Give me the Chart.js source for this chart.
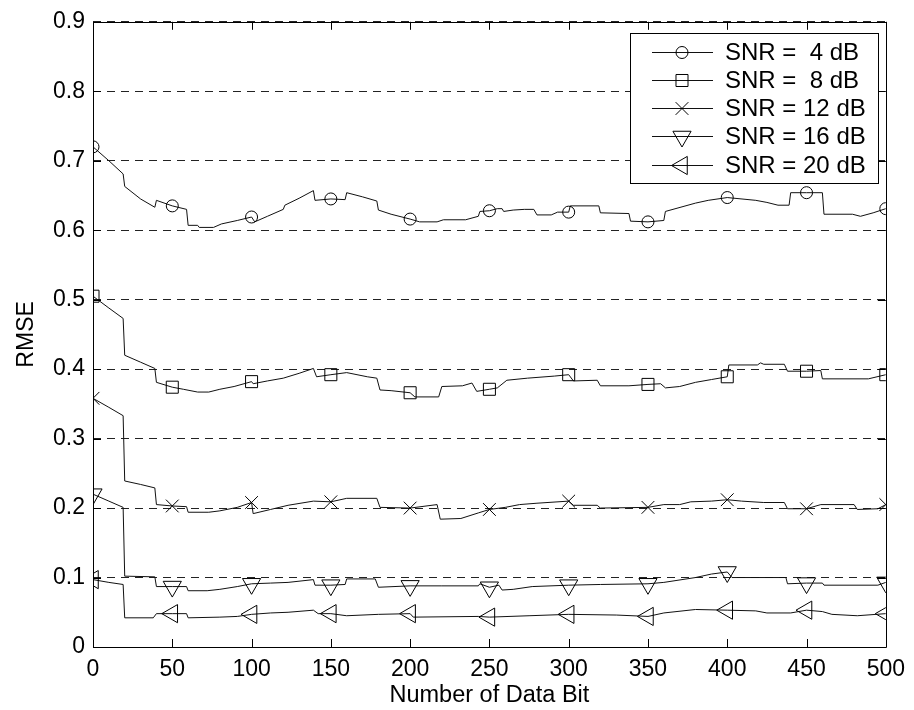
<!DOCTYPE html>
<html>
<head>
<meta charset="utf-8">
<script src="https://cdn.jsdelivr.net/npm/chart.js@4.4.1/dist/chart.umd.min.js"></script>
<style>
  html, body { margin: 0; padding: 0; background: #fff; }
  canvas { display: block; }
</style>
</head>
<body>
<canvas id="rmseChart" width="914" height="710"></canvas>
<script>
// tick values and labels
const xTickValues = [0, 50, 100, 150, 200, 250, 300, 350, 400, 450, 500];
const xTickLabels = ['0', '50', '100', '150', '200', '250', '300', '350', '400', '450', '500'];
const yTickValues = [0, 0.1, 0.2, 0.3, 0.4, 0.5, 0.6, 0.7, 0.8, 0.9];
const yTickLabels = ['0', '0.1', '0.2', '0.3', '0.4', '0.5', '0.6', '0.7', '0.8', '0.9'];

const seriesLabels = ['SNR =  4 dB', 'SNR =  8 dB', 'SNR = 12 dB', 'SNR = 16 dB', 'SNR = 20 dB'];

// SNR = 4 dB
const bits4 = [0, 10, 19, 20, 30, 39, 40, 50, 59, 60, 66, 67, 76, 81, 91, 100, 102, 110, 120, 121, 130, 139, 140, 150, 159, 160, 170, 179, 180, 188, 200, 206, 217, 221, 235, 243, 244, 250, 255, 258, 259, 265, 272, 278, 280, 289, 293, 300, 301, 319, 320, 338, 339, 350, 360, 361, 380, 388, 400, 418, 425, 432, 439, 440, 450, 460, 461, 479, 484, 492, 500];
const rmse4 = [0.720, 0.700, 0.681, 0.663, 0.645, 0.633, 0.643, 0.635, 0.630, 0.607, 0.607, 0.604, 0.604, 0.609, 0.614, 0.619, 0.612, 0.620, 0.630, 0.636, 0.646, 0.657, 0.643, 0.645, 0.644, 0.654, 0.648, 0.642, 0.629, 0.623, 0.616, 0.612, 0.612, 0.615, 0.615, 0.620, 0.627, 0.628, 0.631, 0.631, 0.627, 0.629, 0.630, 0.630, 0.622, 0.622, 0.626, 0.626, 0.635, 0.635, 0.625, 0.624, 0.613, 0.612, 0.614, 0.627, 0.639, 0.643, 0.647, 0.643, 0.640, 0.636, 0.636, 0.654, 0.654, 0.654, 0.623, 0.623, 0.620, 0.625, 0.631];

// SNR = 8 dB
const bits8 = [0, 10, 19, 20, 30, 39, 40, 50, 57, 66, 73, 80, 89, 100, 101, 110, 120, 130, 139, 141, 150, 160, 173, 179, 181, 188, 200, 203, 218, 220, 233, 239, 242, 250, 255, 261, 274, 291, 300, 303, 318, 320, 338, 350, 358, 361, 370, 380, 390, 400, 401, 419, 421, 423, 436, 438, 450, 459, 460, 489, 500];
const rmse8 = [0.505, 0.488, 0.473, 0.420, 0.410, 0.401, 0.381, 0.374, 0.371, 0.367, 0.367, 0.371, 0.375, 0.382, 0.379, 0.383, 0.387, 0.394, 0.401, 0.389, 0.392, 0.395, 0.389, 0.387, 0.370, 0.369, 0.366, 0.360, 0.360, 0.375, 0.376, 0.380, 0.368, 0.371, 0.373, 0.384, 0.387, 0.390, 0.392, 0.383, 0.384, 0.376, 0.376, 0.378, 0.379, 0.373, 0.375, 0.381, 0.385, 0.389, 0.406, 0.406, 0.409, 0.407, 0.407, 0.397, 0.397, 0.398, 0.386, 0.386, 0.392];

// SNR = 12 dB
const bits12 = [0, 10, 19, 20, 30, 39, 40, 50, 59, 60, 73, 80, 91, 100, 101, 112, 123, 139, 150, 160, 179, 181, 200, 217, 219, 232, 243, 250, 260, 269, 280, 300, 303, 318, 320, 350, 360, 370, 377, 390, 400, 409, 423, 436, 438, 450, 459, 480, 482, 495, 500];
const rmse12 = [0.358, 0.345, 0.333, 0.239, 0.234, 0.229, 0.205, 0.203, 0.202, 0.194, 0.194, 0.196, 0.201, 0.208, 0.192, 0.198, 0.204, 0.210, 0.209, 0.214, 0.214, 0.201, 0.200, 0.205, 0.184, 0.185, 0.193, 0.198, 0.201, 0.205, 0.207, 0.210, 0.204, 0.204, 0.200, 0.201, 0.205, 0.205, 0.209, 0.210, 0.212, 0.210, 0.208, 0.208, 0.199, 0.199, 0.205, 0.205, 0.198, 0.199, 0.205];

// SNR = 16 dB
const bits16 = [0, 10, 19, 20, 39, 40, 50, 59, 60, 72, 80, 91, 100, 112, 123, 139, 140, 150, 159, 160, 178, 180, 200, 220, 243, 244, 250, 256, 258, 265, 277, 300, 320, 350, 360, 380, 390, 400, 403, 437, 438, 450, 460, 461, 495, 500];
const rmse16 = [0.220, 0.210, 0.201, 0.102, 0.101, 0.087, 0.087, 0.087, 0.081, 0.081, 0.083, 0.087, 0.091, 0.092, 0.093, 0.097, 0.089, 0.089, 0.090, 0.098, 0.098, 0.086, 0.088, 0.088, 0.088, 0.091, 0.086, 0.089, 0.082, 0.083, 0.087, 0.089, 0.090, 0.091, 0.093, 0.100, 0.105, 0.108, 0.100, 0.100, 0.091, 0.092, 0.092, 0.089, 0.089, 0.093];

// SNR = 20 dB
const bits20 = [0, 10, 19, 20, 38, 40, 50, 59, 60, 80, 91, 100, 112, 123, 139, 142, 150, 160, 180, 200, 202, 243, 250, 275, 300, 330, 350, 360, 380, 400, 418, 425, 440, 450, 460, 466, 482, 500];
const rmse20 = [0.097, 0.093, 0.090, 0.042, 0.042, 0.048, 0.048, 0.048, 0.042, 0.043, 0.044, 0.047, 0.049, 0.050, 0.053, 0.048, 0.048, 0.045, 0.047, 0.048, 0.043, 0.044, 0.043, 0.045, 0.047, 0.046, 0.044, 0.049, 0.054, 0.053, 0.052, 0.049, 0.049, 0.053, 0.051, 0.047, 0.045, 0.048];

const FONT = "'Liberation Sans', Arial, Helvetica, sans-serif";
Chart.defaults.font.family = FONT;
Chart.defaults.font.size = 23;
Chart.defaults.color = '#000';

const markers = [
    { style: 'circle', radius: 6, rotation: 0 },
    { style: 'rect', radius: 8.5, rotation: 0 },
    { style: 'crossRot', radius: 9, rotation: 0 },
    { style: 'triangle', radius: 10.5, rotation: 180 },
    { style: 'triangle', radius: 10.5, rotation: 270 }
];

function makeDataset(idx, bits, vals) {
    const m = markers[idx];
    return {
        label: seriesLabels[idx],
        data: bits.map((b, i) => ({ x: b, y: vals[i] })),
        borderColor: '#111',
        borderWidth: 1,
        tension: 0,
        fill: false,
        pointStyle: m.style,
        pointRotation: m.rotation,
        pointRadius: ctx => (ctx.raw && ctx.raw.x % 50 === 0) ? m.radius : 0,
        pointHoverRadius: 0,
        pointBorderColor: '#000',
        pointBackgroundColor: 'rgba(0,0,0,0)',
        pointBorderWidth: 1
    };
}

// axis box with inward ticks, like the original plot
const boxPlugin = {
    id: 'boxPlugin',
    afterDatasetsDraw(chart) {
        const { ctx, chartArea: a } = chart;
        const xs = chart.scales.x, ys = chart.scales.y;
        const tick = 8;
        ctx.save();
        ctx.strokeStyle = '#000';
        ctx.lineWidth = 1;
        ctx.beginPath();
        ctx.rect(Math.round(a.left) + 0.5, Math.round(a.top) + 0.5,
                 Math.round(a.right - a.left), Math.round(a.bottom - a.top));
        xTickValues.forEach(v => {
            const px = Math.round(xs.getPixelForValue(v)) + 0.5;
            ctx.moveTo(px, a.bottom);
            ctx.lineTo(px, a.bottom - tick);
            ctx.moveTo(px, a.top);
            ctx.lineTo(px, a.top + tick);
        });
        yTickValues.forEach(v => {
            const py = Math.round(ys.getPixelForValue(v)) + 0.5;
            ctx.moveTo(a.left, py);
            ctx.lineTo(a.left + tick, py);
            ctx.moveTo(a.right, py);
            ctx.lineTo(a.right - tick, py);
        });
        ctx.stroke();
        ctx.restore();
    }
};

// legend drawn inside the axes, top right
const legendPlugin = {
    id: 'insideLegend',
    afterDraw(chart) {
        const { ctx } = chart;
        const box = { left: 630, top: 33, right: 878, bottom: 183 };
        const rowGap = 28.3;
        ctx.save();
        ctx.fillStyle = '#fff';
        ctx.fillRect(box.left, box.top, box.right - box.left, box.bottom - box.top);
        ctx.strokeStyle = '#000';
        ctx.lineWidth = 1;
        ctx.strokeRect(box.left + 0.5, box.top + 0.5, box.right - box.left, box.bottom - box.top);

        chart.data.datasets.forEach((ds, i) => {
            const y = Math.round(box.top + 18.5 + i * rowGap) + 0.5;
            ctx.strokeStyle = '#111';
            ctx.lineWidth = 1;
            ctx.beginPath();
            ctx.moveTo(652, y);
            ctx.lineTo(713, y);
            ctx.stroke();

            const m = markers[i];
            ctx.strokeStyle = '#000';
            ctx.fillStyle = 'rgba(0,0,0,0)';
            Chart.helpers.drawPoint(ctx, {
                pointStyle: m.style,
                radius: m.radius,
                rotation: m.rotation,
                borderWidth: 1
            }, 682, y);

            ctx.fillStyle = '#000';
            ctx.font = '24px ' + FONT;
            ctx.textAlign = 'left';
            ctx.textBaseline = 'middle';
            ctx.fillText(ds.label, 725, y + 1);
        });
        ctx.restore();
    }
};

new Chart(document.getElementById('rmseChart'), {
    type: 'line',
    data: {
        datasets: [
            makeDataset(0, bits4, rmse4),
            makeDataset(1, bits8, rmse8),
            makeDataset(2, bits12, rmse12),
            makeDataset(3, bits16, rmse16),
            makeDataset(4, bits20, rmse20)
        ]
    },
    options: {
        responsive: false,
        animation: false,
        events: [],
        devicePixelRatio: 1,
        layout: { padding: { top: 17, right: 22, left: 0, bottom: 0 } },
        plugins: {
            legend: { display: false },
            tooltip: { enabled: false }
        },
        scales: {
            x: {
                type: 'linear',
                min: 0,
                max: 500,
                afterBuildTicks: s => { s.ticks = xTickValues.map(v => ({ value: v })); },
                afterFit: s => { s.height = 63; },
                grid: { display: false, drawTicks: false },
                border: { display: false },
                ticks: {
                    padding: 9,
                    autoSkip: false,
                    maxRotation: 0,
                    callback: (v, i) => xTickLabels[i]
                },
                title: {
                    display: true,
                    text: 'Number of Data Bit',
                    font: { size: 23.5 },
                    padding: { top: 0, bottom: 0 }
                }
            },
            y: {
                min: 0,
                max: 0.9,
                afterBuildTicks: s => { s.ticks = yTickValues.map(v => ({ value: v })); },
                afterFit: s => { s.width = 93; },
                grid: { color: '#222', lineWidth: 1, drawTicks: false },
                border: { display: false, dash: [8, 6] },
                ticks: {
                    padding: 8,
                    callback: (v, i) => yTickLabels[i]
                },
                title: {
                    display: true,
                    text: 'RMSE',
                    font: { size: 23 },
                    padding: { top: 13, bottom: 0 }
                }
            }
        }
    },
    plugins: [boxPlugin, legendPlugin]
});
</script>
</body>
</html>
